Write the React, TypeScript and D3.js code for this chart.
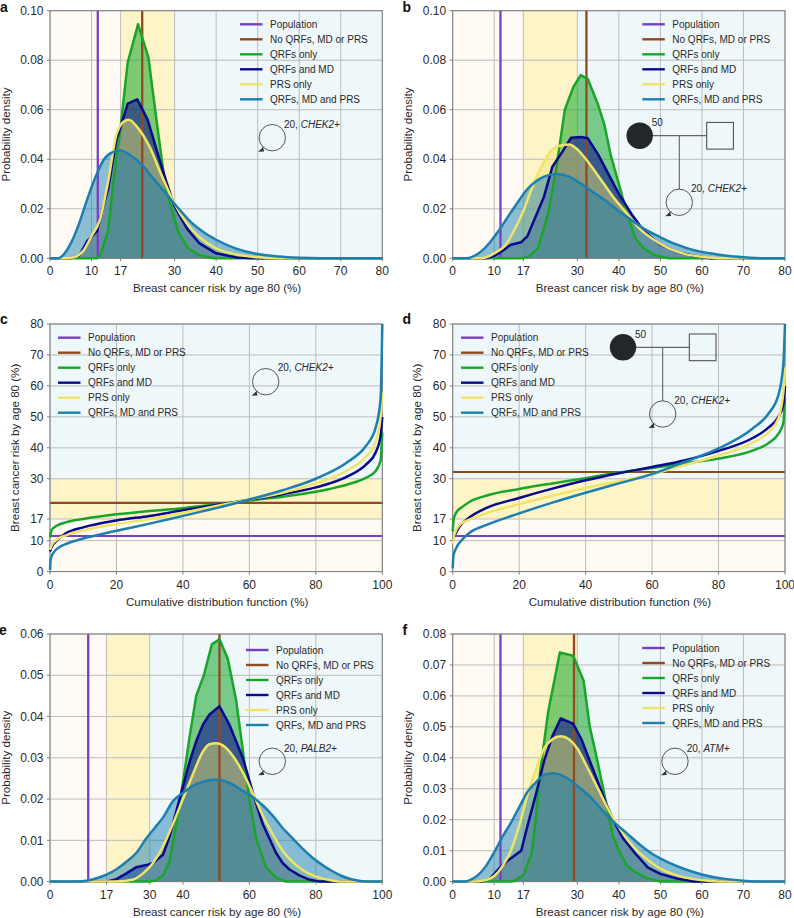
import React from "react";
import * as d3 from "d3";

type Pt = [number, number];

const seriesNames = ["Population", "No QRFs, MD or PRS", "QRFs only", "QRFs and MD", "PRS only", "QRFs, MD and PRS"];
const seriesColors = ["#7a3fc0", "#8f4a20", "#18a52a", "#0a0a8e", "#f0e468", "#1c7fb0"];

const riskTicks80 = [0, 10, 17, 30, 40, 50, 60, 70, 80];
const riskTicks100 = [0, 17, 30, 40, 60, 80, 100];
const cdfTicks = [0, 20, 40, 60, 80, 100];

const aGreen: Pt[] = [[11.3,0],[12,0.001],[14,0.011],[15.2,0.03],[17,0.053],[18.7,0.079],[21.2,0.0945],[23.7,0.081],[25.7,0.055],[27.7,0.03],[29.3,0.02],[30.9,0.0105],[33.3,0.004],[36,0.0012],[39.3,0]];
const aNavy: Pt[] = [[5,0],[7,0.001],[9,0.007],[11.3,0.011],[13,0.022],[14,0.028],[16,0.048],[17,0.053],[18.7,0.0625],[21,0.0642],[23.5,0.056],[26,0.042],[28,0.031],[30,0.021],[33,0.012],[36,0.006],[40,0.002],[45,0.0003],[50,0]];
const aYellow: Pt[] = [[4,0],[6,0.0005],[8,0.003],[10,0.009],[12,0.0155],[14,0.031],[16,0.05],[18,0.0555],[19,0.056],[21,0.053],[24,0.045],[27,0.033],[30,0.022],[33,0.014],[36,0.0085],[40,0.004],[45,0.0015],[50,0.0004],[55,0]];
const aBlue: Pt[] = [[2,0],[3,0.001],[5,0.006],[7,0.014],[9,0.024],[11,0.033],[13,0.04],[15,0.0428],[17,0.0435],[19,0.042],[22,0.038],[25,0.032],[28,0.026],[31,0.02],[34,0.0145],[37,0.0105],[40,0.0075],[45,0.0038],[50,0.0017],[55,0.0007],[60,0.0002],[65,0]];

const bGreen: Pt[] = [[17,0],[18.5,0.001],[20.5,0.004],[23,0.018],[25,0.037],[27,0.06],[29,0.069],[30.8,0.074],[32.5,0.0725],[35,0.062],[36.5,0.054],[38,0.042],[40,0.03],[42,0.018],[44,0.008],[46,0.004],[49,0.001],[52,0]];
const bNavy: Pt[] = [[8,0],[10,0.001],[12,0.003],[14,0.0055],[16.5,0.0065],[18,0.009],[20,0.017],[22,0.025],[24,0.037],[26,0.042],[28.5,0.0487],[31,0.049],[32.5,0.0485],[35,0.042],[37.5,0.034],[40,0.026],[43,0.018],[46,0.011],[50,0.0055],[54,0.0025],[58,0.001],[62,0]];
const bYellow: Pt[] = [[7,0],[10,0.002],[13,0.006],[15,0.012],[17,0.019],[19,0.028],[22,0.039],[24,0.044],[26.5,0.0458],[28,0.046],[30,0.044],[33,0.038],[36,0.031],[39,0.024],[42,0.018],[45,0.012],[48,0.008],[52,0.004],[56,0.0017],[60,0.0006],[65,0]];
const bBlue: Pt[] = [[3,0],[5,0.0008],[7,0.003],[9,0.0065],[11,0.011],[13,0.016],[15,0.021],[18,0.028],[20,0.031],[22,0.033],[25,0.034],[28,0.033],[31,0.03],[34,0.0265],[37,0.023],[40,0.019],[43,0.0155],[46,0.012],[50,0.0085],[54,0.0055],[58,0.0033],[62,0.002],[66,0.001],[70,0.0004],[75,0]];

const cGreen: Pt[] = [[0,11],[0.5,13.5],[2,14.8],[5,16],[10,17],[20,18.5],[30,19.6],[40,20.5],[50,21.7],[60,23],[70,24.2],[80,25.8],[85,26.9],[90,28.3],[95,30.3],[98,32.5],[99.5,36],[100,45]];
const cNavy: Pt[] = [[0,6.5],[0.5,8],[2,10],[5,12.5],[10,14.3],[20,16.5],[30,18],[40,19.8],[50,21.5],[60,23.2],[70,25],[80,27.2],[90,31],[95,34.5],[98,38.5],[99.5,44],[100,50]];
const cYellow: Pt[] = [[0,7],[0.5,8.5],[2,10.3],[5,11.8],[10,13.3],[20,15.3],[30,17],[40,19],[50,21.2],[60,23.3],[70,25.5],[80,28.5],[90,33],[95,37],[98,42],[99.5,50],[100,58]];
const cBlue: Pt[] = [[0,0.5],[0.2,4],[1,6],[3,8],[5,9],[10,10.7],[20,13.2],[30,15.5],[40,18],[50,20.5],[60,23.3],[70,26.3],[80,30],[90,35.7],[95,40.5],[98,46.5],[99.5,56],[100,80]];

const dGreen: Pt[] = [[0,13],[0.3,17],[1,19],[3,21],[5,22.5],[10,24.5],[20,26.7],[30,28.5],[40,30.2],[50,32],[60,33.5],[70,35],[80,36.5],[90,39],[95,41.5],[98,44.5],[99.5,48],[100,56]];
const dNavy: Pt[] = [[0,10],[0.5,11.5],[2,14.5],[5,17.5],[10,20.5],[20,23.8],[30,26.8],[40,29.5],[50,31.8],[60,33.8],[70,36],[80,39],[90,43],[95,46.5],[98,50],[99.5,54],[100,60]];
const dYellow: Pt[] = [[0,9],[0.5,12],[2,15],[5,16.8],[10,18.8],[20,21.8],[30,24.5],[40,27],[50,29.2],[60,31.5],[70,34.5],[80,37.5],[90,41.5],[95,45],[98,49.5],[99.5,58],[100,66]];
const dBlue: Pt[] = [[0,1],[0.2,5],[1,7.5],[3,10.5],[5,12.5],[10,15],[20,18.8],[30,22.3],[40,25.5],[50,28.5],[60,31.5],[70,35.5],[80,39.8],[90,46],[95,51],[98,57],[99.5,67],[100,80]];

const eGreen: Pt[] = [[30,0],[32,0.0003],[34,0.0015],[36,0.005],[38,0.014],[40,0.024],[42,0.035],[44,0.045],[46.3,0.05],[48.7,0.0575],[51,0.0587],[53.5,0.054],[56,0.044],[58,0.032],[60,0.02],[62,0.0105],[65,0.0035],[68,0.001],[71,0]];
const eNavy: Pt[] = [[17,0],[20,0.0006],[23,0.002],[26,0.0035],[29,0.004],[31,0.0045],[34,0.0065],[36,0.011],[38,0.017],[40,0.023],[42,0.029],[44,0.034],[46,0.038],[48,0.0405],[51,0.0425],[54,0.038],[56,0.034],[58,0.03],[60,0.0245],[62,0.019],[64,0.014],[66,0.0105],[68,0.007],[70,0.0045],[72,0.003],[75,0.0015],[78,0.0005],[81,0]];
const eYellow: Pt[] = [[20,0],[25,0.0005],[28,0.002],[31,0.0045],[34,0.0085],[37,0.014],[40,0.02],[43,0.026],[46,0.0315],[48,0.0333],[50,0.0335],[52,0.033],[55,0.0305],[58,0.0265],[61,0.0215],[64,0.016],[67,0.0115],[70,0.0075],[73,0.0048],[76,0.0028],[80,0.0012],[84,0.0004],[88,0]];
const eBlue: Pt[] = [[8,0],[11,0.0002],[14,0.0008],[17,0.0017],[20,0.003],[23,0.0048],[26,0.007],[29,0.0105],[32,0.0135],[34,0.0155],[37,0.0195],[40,0.0215],[43,0.0232],[46,0.0242],[49,0.0247],[52,0.0245],[55,0.0235],[58,0.022],[61,0.0205],[64,0.0185],[67,0.016],[70,0.013],[73,0.0105],[76,0.008],[79,0.0058],[82,0.004],[85,0.0025],[88,0.0013],[91,0.0005],[94,0.0001],[97,0]];

const fGreen: Pt[] = [[14,0],[15,0.0003],[17,0.002],[19,0.009],[20,0.02],[21,0.035],[23,0.055],[25.8,0.074],[29,0.073],[31.5,0.065],[33,0.05],[35,0.038],[37,0.025],[38.5,0.015],[40,0.01],[42,0.005],[44,0.003],[47,0.001],[50,0]];
const fNavy: Pt[] = [[7,0],[9,0.001],[11,0.004],[13,0.0065],[15,0.0085],[16.5,0.01],[18,0.018],[20,0.028],[22,0.039],[24,0.047],[26,0.0527],[29,0.051],[31,0.046],[33,0.039],[35,0.032],[37,0.025],[39,0.019],[41,0.014],[44,0.009],[47,0.0045],[50,0.0025],[54,0.001],[58,0]];
const fYellow: Pt[] = [[5,0],[8,0.0005],[10,0.0018],[12,0.005],[14,0.01],[16,0.018],[18,0.028],[20,0.036],[22,0.043],[24,0.046],[26,0.047],[28,0.046],[30,0.043],[32,0.038],[35,0.03],[38,0.022],[41,0.0155],[44,0.0105],[47,0.007],[50,0.0042],[54,0.002],[58,0.0008],[62,0.0002],[66,0]];
const fBlue: Pt[] = [[3,0],[4,0.0004],[6,0.002],[8,0.005],[10,0.0095],[12,0.0145],[14,0.019],[16,0.024],[18,0.029],[20,0.032],[22,0.0345],[24,0.035],[26,0.0345],[28,0.033],[30,0.031],[33,0.0275],[36,0.023],[39,0.019],[42,0.0155],[45,0.012],[48,0.009],[51,0.0068],[54,0.005],[57,0.0035],[60,0.0023],[63,0.0014],[66,0.0008],[70,0.0003],[75,0]];

const FONT = "'Liberation Sans', Arial, sans-serif";
const INK = "#2a2a2a";
const EDGE = "#7d7d7d";
const GRID = "#bcbcbc";
const BANDS: [number, number, string][] = [
  [0, 17, "#fffaf4"],
  [17, 30, "#fdf5c8"],
  [30, 100, "#eef7fa"],
];

function Pedigree({ p }: { p: any }) {
  const r = 13.2;
  const ax = p.cx - 14.2, ay = p.cy + 14;
  return (
    <g fontFamily={FONT} fontSize={10} fill={INK}>
      {p.parent && (
        <g>
          <line x1={p.parent.x} x2={p.parent.sqX} y1={p.parent.y} y2={p.parent.y} stroke="#444" strokeWidth={1} />
          <line x1={p.cx} x2={p.cx} y1={p.parent.y} y2={p.cy - r} stroke="#555" strokeWidth={1} />
          <circle cx={p.parent.x} cy={p.parent.y} r={r} fill="#23272a" />
          <rect x={p.parent.sqX} y={p.parent.y - 13.3} width={26.7} height={26.7} fill="none" stroke="#444" strokeWidth={1} />
          <text x={p.parent.x + 12} y={p.parent.y - 9.5}>50</text>
        </g>
      )}
      <circle cx={p.cx} cy={p.cy} r={r} fill="none" stroke="#444" strokeWidth={0.9} />
      <path d={`M${ax},${ay} l5,-4.4 l1,4.2 Z`} fill="#333" />
      <line x1={ax + 3} x2={ax + 6} y1={ay - 2} y2={ay - 5} stroke="#333" strokeWidth={0.8} />
      <text x={p.tx} y={p.ty}>20, <tspan fontStyle="italic">{p.gene}</tspan></text>
    </g>
  );
}

function Panel(props: any) {
  const { letter, labelX, labelY, left, top, xMax, yMax, xTicks, yTicks, kind, curves, pop, none, legendX, legendY, ped, xTitle, yTitle, yTitleX, yFmt } = props;
  const W = 332.3, H = 247.6;
  const x = d3.scaleLinear().domain([0, xMax]).range([left, left + W]);
  const y = d3.scaleLinear().domain([0, yMax]).range([top + H, top]);
  const isPdf = kind === "pdf";
  const line = d3.line<Pt>().x(d => x(d[0])).y(d => y(d[1]));
  const area = d3.area<Pt>().x(d => x(d[0])).y0(y(0)).y1(d => y(d[1]));
  const curveFor = (i: number) => (isPdf && i < 2 ? d3.curveLinear : d3.curveMonotoneX);
  const colors = seriesColors.slice(2);
  const fillOp = [0.55, 0.58, 0.45, 0.5];
  const lim = isPdf ? xMax : yMax;
  const padded = (c: Pt[]): Pt[] => (isPdf ? [[0, 0] as Pt, ...c, [xMax, 0] as Pt] : c);
  return (
    <g>
      <text x={labelX} y={labelY} fontFamily={FONT} fontWeight="bold" fontSize={14} fill="#111">{letter}</text>
      {BANDS.map(([a, b, c]) => {
        const hi = Math.min(b, lim);
        return isPdf
          ? <rect key={a} x={x(a)} width={x(hi) - x(a)} y={top} height={H} fill={c} />
          : <rect key={a} x={left} width={W} y={y(hi)} height={y(a) - y(hi)} fill={c} />;
      })}
      {xTicks.map((t: number) => <line key={t} x1={x(t)} x2={x(t)} y1={top} y2={top + H} stroke={GRID} strokeWidth={1} />)}
      {yTicks.map((t: number) => <line key={t} x1={left} x2={left + W} y1={y(t)} y2={y(t)} stroke={GRID} strokeWidth={1} />)}
      {isPdf && curves.map((c: Pt[], i: number) => (
        <path key={i} d={area.curve(curveFor(i))(c) as string} fill={colors[i]} fillOpacity={fillOp[i]} stroke="none" />
      ))}
      {isPdf ? (
        <g strokeWidth={2.3}>
          <line x1={x(pop)} x2={x(pop)} y1={top} y2={top + H} stroke={seriesColors[0]} />
          <line x1={x(none)} x2={x(none)} y1={top} y2={top + H} stroke={seriesColors[1]} />
        </g>
      ) : (
        <g strokeWidth={2.1}>
          <line x1={left} x2={left + W} y1={y(pop)} y2={y(pop)} stroke={seriesColors[0]} />
          <line x1={left} x2={left + W} y1={y(none)} y2={y(none)} stroke={seriesColors[1]} />
        </g>
      )}
      <rect x={left} y={top} width={W} height={H} fill="none" stroke={EDGE} strokeWidth={1} />
      {curves.map((c: Pt[], i: number) => (
        <path key={i} d={line.curve(curveFor(i))(padded(c)) as string} fill="none" stroke={colors[i]} strokeWidth={2.5} strokeLinejoin="round" />
      ))}
      {xTicks.map((t: number) => (
        <g key={t}>
          <line x1={x(t)} x2={x(t)} y1={top + H} y2={top + H + 3} stroke={EDGE} />
          <text x={x(t)} y={top + H + 17} textAnchor="middle" fontFamily={FONT} fontSize={12} fill={INK}>{t}</text>
        </g>
      ))}
      {yTicks.map((t: number) => (
        <g key={t}>
          <line x1={left - 3} x2={left} y1={y(t)} y2={y(t)} stroke={EDGE} />
          <text x={left - 6.5} y={y(t) + 4.2} textAnchor="end" fontFamily={FONT} fontSize={12} fill={INK}>{yFmt ? d3.format(yFmt)(t) : t}</text>
        </g>
      ))}
      <text x={left + W / 2 + 1} y={top + H + 34} textAnchor="middle" fontFamily={FONT} fontSize={11.6} fill={INK}>{xTitle}</text>
      <text transform={`translate(${yTitleX},${top + H / 2}) rotate(-90)`} textAnchor="middle" fontFamily={FONT} fontSize={11.6} fill={INK}>{yTitle}</text>
      {seriesNames.map((n, i) => (
        <g key={n}>
          <line x1={legendX} x2={legendX + 22.5} y1={legendY + i * 15} y2={legendY + i * 15} stroke={seriesColors[i]} strokeWidth={2.4} />
          <text x={legendX + 30} y={legendY + i * 15 + 3.6} fontFamily={FONT} fontSize={10} fill={INK}>{n}</text>
        </g>
      ))}
      <Pedigree p={ped} />
    </g>
  );
}

const RISK = "Breast cancer risk by age 80 (%)";
const CDF = "Cumulative distribution function (%)";
const PD = "Probability density";
const L1 = 50, L2 = 452.7, T1 = 10.7, T2 = 324, T3 = 634;

export default function App() {
  return (
    <svg width={794} height={918} viewBox="0 0 794 918" style={{ position: "absolute", left: 0, top: 0, background: "#fff" }}>
      <Panel letter="a" labelX={0} labelY={12} left={L1} top={T1} xMax={80} yMax={0.1} kind="pdf" xTicks={riskTicks80} yTicks={[0,0.02,0.04,0.06,0.08,0.1]} yFmt=".2f"
        curves={[aGreen, aNavy, aYellow, aBlue]} pop={11.5} none={22.2} legendX={240} legendY={24.3} xTitle={RISK} yTitle={PD} yTitleX={9.5}
        ped={{ cx: 272.3, cy: 137.7, tx: 284, ty: 127.5, gene: "CHEK2+" }} />
      <Panel letter="b" labelX={402.5} labelY={12} left={L2} top={T1} xMax={80} yMax={0.1} kind="pdf" xTicks={riskTicks80} yTicks={[0,0.02,0.04,0.06,0.08,0.1]} yFmt=".2f"
        curves={[bGreen, bNavy, bYellow, bBlue]} pop={11.5} none={32.2} legendX={642.3} legendY={24.3} xTitle={RISK} yTitle={PD} yTitleX={412}
        ped={{ cx: 679.3, cy: 202.3, tx: 691, ty: 192, gene: "CHEK2+", parent: { x: 639.7, y: 135.7, sqX: 706.7 } }} />
      <Panel letter="c" labelX={0} labelY={324} left={L1} top={T2} xMax={100} yMax={80} kind="cdf" xTicks={cdfTicks} yTicks={riskTicks80}
        curves={[cGreen, cNavy, cYellow, cBlue]} pop={11.5} none={22.2} legendX={58} legendY={337.7} xTitle={CDF} yTitle={RISK} yTitleX={19}
        ped={{ cx: 265.7, cy: 381.7, tx: 277.7, ty: 371.3, gene: "CHEK2+" }} />
      <Panel letter="d" labelX={402.5} labelY={324} left={L2} top={T2} xMax={100} yMax={80} kind="cdf" xTicks={cdfTicks} yTicks={riskTicks80}
        curves={[dGreen, dNavy, dYellow, dBlue]} pop={11.5} none={32.2} legendX={461} legendY={337.7} xTitle={CDF} yTitle={RISK} yTitleX={421}
        ped={{ cx: 662.7, cy: 414, tx: 674.3, ty: 404, gene: "CHEK2+", parent: { x: 623, y: 347.3, sqX: 689.3 } }} />
      <Panel letter="e" labelX={-1} labelY={635} left={L1} top={T3} xMax={100} yMax={0.06} kind="pdf" xTicks={riskTicks100} yTicks={[0,0.01,0.02,0.03,0.04,0.05,0.06]} yFmt=".2f"
        curves={[eGreen, eNavy, eYellow, eBlue]} pop={11.5} none={51} legendX={246} legendY={650} xTitle={RISK} yTitle={PD} yTitleX={9.5}
        ped={{ cx: 272.3, cy: 761.3, tx: 284, ty: 752, gene: "PALB2+" }} />
      <Panel letter="f" labelX={402.5} labelY={635} left={L2} top={T3} xMax={80} yMax={0.08} kind="pdf" xTicks={riskTicks80} yTicks={[0,0.01,0.02,0.03,0.04,0.05,0.06,0.07,0.08]} yFmt=".2f"
        curves={[fGreen, fNavy, fYellow, fBlue]} pop={11.5} none={29.2} legendX={642.3} legendY={648} xTitle={RISK} yTitle={PD} yTitleX={412}
        ped={{ cx: 675, cy: 761.3, tx: 686.7, ty: 752, gene: "ATM+" }} />
    </svg>
  );
}
